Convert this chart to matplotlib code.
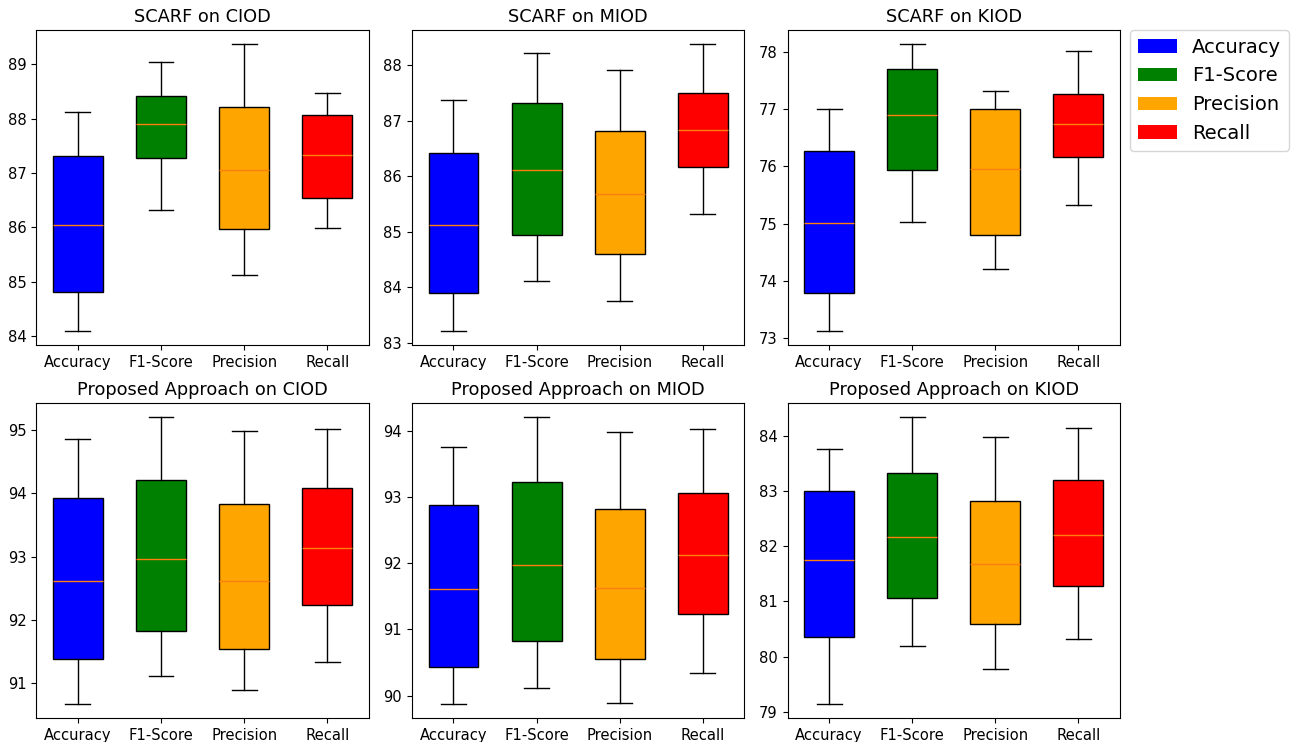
import matplotlib
matplotlib.use("Agg")
import matplotlib.pyplot as plt
from matplotlib.patches import Patch

metrics = ["Accuracy", "F1-Score", "Precision", "Recall"]
colors = ["blue", "green", "orange", "red"]

titles = [
    "SCARF on CIOD", "SCARF on MIOD", "SCARF on KIOD",
    "Proposed Approach on CIOD", "Proposed Approach on MIOD", "Proposed Approach on KIOD",
]

# per panel, per metric: (whisker low, q1, median, q3, whisker high)
scarf_ciod = [(84.10, 84.82, 86.05, 87.32, 88.12),
              (86.32, 87.28, 87.90, 88.41, 89.05),
              (85.13, 85.97, 87.05, 88.22, 89.37),
              (85.99, 86.55, 87.33, 88.06, 88.47)]
scarf_miod = [(83.22, 83.90, 85.12, 86.43, 87.38),
              (84.12, 84.95, 86.12, 87.32, 88.22),
              (83.76, 84.60, 85.68, 86.82, 87.92),
              (85.32, 86.17, 86.83, 87.51, 88.38)]
scarf_kiod = [(73.13, 73.78, 75.01, 76.26, 77.00),
              (75.02, 75.93, 76.90, 77.70, 78.13),
              (74.20, 74.80, 75.95, 77.00, 77.32),
              (75.32, 76.17, 76.73, 77.27, 78.02)]
prop_ciod = [(90.68, 91.38, 92.62, 93.93, 94.85),
             (91.12, 91.82, 92.97, 94.21, 95.20),
             (90.89, 91.55, 92.62, 93.83, 94.98),
             (91.34, 92.23, 93.14, 94.08, 95.02)]
prop_miod = [(89.88, 90.43, 91.61, 92.88, 93.75),
             (90.12, 90.82, 91.97, 93.22, 94.20),
             (89.89, 90.56, 91.62, 92.82, 93.98),
             (90.35, 91.23, 92.13, 93.06, 94.03)]
prop_kiod = [(79.15, 80.35, 81.75, 83.00, 83.76),
             (80.20, 81.07, 82.17, 83.33, 84.33),
             (79.77, 80.60, 81.67, 82.82, 83.98),
             (80.32, 81.27, 82.20, 83.20, 84.13)]

panels = [scarf_ciod, scarf_miod, scarf_kiod, prop_ciod, prop_miod, prop_kiod]

fig, axes = plt.subplots(2, 3, figsize=(12.97, 7.42), dpi=100)
fig.subplots_adjust(left=0.028, right=0.8635, top=0.9596, bottom=0.0323,
                    wspace=0.13, hspace=0.184)

for ax, title, data in zip(axes.flat, titles, panels):
    stats = []
    for name, (lo, q1, med, q3, hi) in zip(metrics, data):
        stats.append({"label": name, "whislo": lo, "q1": q1, "med": med,
                      "q3": q3, "whishi": hi, "fliers": []})
    bp = ax.bxp(stats, widths=0.6, patch_artist=True,
                medianprops=dict(color="#ff7f0e"))
    for box, c in zip(bp["boxes"], colors):
        box.set_facecolor(c)
    ax.set_title(title, fontsize=12.75)
    ax.tick_params(labelsize=10.6)

handles = [Patch(facecolor=c, label=m) for c, m in zip(colors, metrics)]
axes[0, 2].legend(handles=handles, loc="upper left", bbox_to_anchor=(1.03, 1.0),
                  borderaxespad=0, fontsize=14)

fig.savefig("out.png")
